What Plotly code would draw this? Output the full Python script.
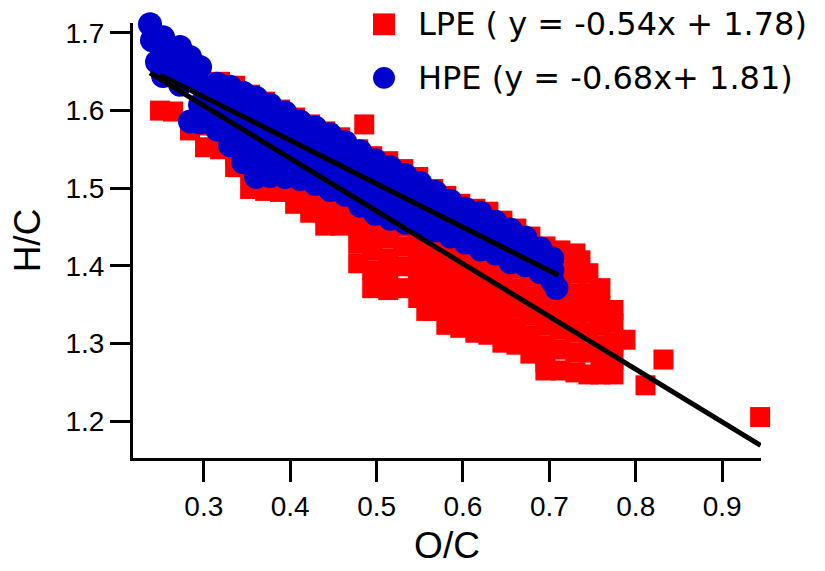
import plotly.graph_objects as go

# ---- LPE (red squares) : O/C, H/C ----
lpe_oc = [0.2493, 0.2643, 0.2840,
          0.3014, 0.3014, 0.3014, 0.3014,
          0.3188, 0.3188, 0.3188, 0.3188, 0.3188,
          0.3362, 0.3362, 0.3362, 0.3362, 0.3362, 0.3362,
          0.3536, 0.3536, 0.3536, 0.3536, 0.3536, 0.3536,
          0.3710, 0.3710, 0.3710, 0.3710, 0.3710, 0.3710,
          0.3883, 0.3883, 0.3883, 0.3883, 0.3883, 0.3883,
          0.4057, 0.4057, 0.4057, 0.4057, 0.4057, 0.4057,
          0.4231, 0.4231, 0.4231, 0.4231, 0.4231, 0.4231,
          0.4405, 0.4405, 0.4405, 0.4405, 0.4405, 0.4405,
          0.4579, 0.4579, 0.4579, 0.4579, 0.4579, 0.4579,
          0.4787, 0.4787, 0.4787, 0.4787, 0.4787, 0.4787, 0.4787,
          0.4857,
          0.4949, 0.4949, 0.4949, 0.4949, 0.4949, 0.4949, 0.4949, 0.4949,
          0.5135, 0.5135, 0.5135, 0.5135, 0.5135, 0.5135, 0.5135, 0.5135,
          0.5309, 0.5309, 0.5309, 0.5309, 0.5309, 0.5309, 0.5309,
          0.5482, 0.5482, 0.5482, 0.5482, 0.5482, 0.5482, 0.5482, 0.5482,
          0.5575,
          0.5656, 0.5656, 0.5656, 0.5656, 0.5656, 0.5656, 0.5656, 0.5656,
          0.5807, 0.5807, 0.5807, 0.5807, 0.5807, 0.5807, 0.5807, 0.5807,
          0.5969, 0.5969, 0.5969, 0.5969, 0.5969, 0.5969, 0.5969, 0.5969,
          0.6143, 0.6143, 0.6143, 0.6143, 0.6143, 0.6143, 0.6143, 0.6143,
          0.6294, 0.6294, 0.6294, 0.6294, 0.6294, 0.6294, 0.6294, 0.6294,
          0.6456, 0.6456, 0.6456, 0.6456, 0.6456, 0.6456, 0.6456, 0.6456,
          0.6618, 0.6618, 0.6618, 0.6618, 0.6618, 0.6618, 0.6618,
          0.6780, 0.6780, 0.6780, 0.6780, 0.6780, 0.6780, 0.6780,
          0.6954, 0.6954, 0.6954, 0.6954, 0.6954, 0.6954, 0.6954, 0.6954,
          0.7128, 0.7128, 0.7128, 0.7128, 0.7128, 0.7128, 0.7128,
          0.7302, 0.7302, 0.7302, 0.7302, 0.7302, 0.7302, 0.7302,
          0.7360,
          0.7452, 0.7452, 0.7452, 0.7452, 0.7452, 0.7452,
          0.7591, 0.7591, 0.7591, 0.7591, 0.7591, 0.7591,
          0.7742, 0.7742, 0.7742, 0.7742, 0.7742,
          0.7881,
          0.8113, 0.8321, 0.9440]
lpe_hc = [1.6000, 1.5988, 1.5745,
          1.6269, 1.6039, 1.5809, 1.5528,
          1.6371, 1.6141, 1.5911, 1.5681, 1.5502,
          1.6320, 1.6090, 1.5860, 1.5630, 1.5400, 1.5272,
          1.6205, 1.5975, 1.5745, 1.5502, 1.5247, 1.4991,
          1.6115, 1.5885, 1.5656, 1.5426, 1.5196, 1.4966,
          1.6013, 1.5796, 1.5579, 1.5362, 1.5145, 1.4953,
          1.5911, 1.5681, 1.5451, 1.5221, 1.4991, 1.4800,
          1.5822, 1.5592, 1.5362, 1.5132, 1.4902, 1.4685,
          1.5732, 1.5490, 1.5247, 1.5004, 1.4762, 1.4519,
          1.5656, 1.5426, 1.5196, 1.4966, 1.4736, 1.4519,
          1.5502, 1.5260, 1.5017, 1.4774, 1.4532, 1.4289, 1.4034,
          1.5822,
          1.5413, 1.5170, 1.4928, 1.4685, 1.4442, 1.4200, 1.3944, 1.3714,
          1.5349, 1.5106, 1.4864, 1.4608, 1.4353, 1.4097, 1.3868, 1.3689,
          1.5247, 1.5004, 1.4762, 1.4506, 1.4251, 1.3995, 1.3714,
          1.5145, 1.4902, 1.4660, 1.4417, 1.4174, 1.3931, 1.3753, 1.3587,
          1.3421,
          1.4991, 1.4762, 1.4532, 1.4302, 1.4072, 1.3842, 1.3612, 1.3421,
          1.4902, 1.4672, 1.4429, 1.4187, 1.3944, 1.3702, 1.3459, 1.3242,
          1.4800, 1.4570, 1.4340, 1.4110, 1.3880, 1.3650, 1.3421, 1.3203,
          1.4736, 1.4506, 1.4276, 1.4046, 1.3817, 1.3587, 1.3357, 1.3140,
          1.4698, 1.4442, 1.4187, 1.3931, 1.3676, 1.3421, 1.3267, 1.3114,
          1.4583, 1.4353, 1.4097, 1.3842, 1.3587, 1.3331, 1.3178, 1.3012,
          1.4481, 1.4225, 1.3970, 1.3714, 1.3459, 1.3203, 1.2986,
          1.4378, 1.4123, 1.3868, 1.3612, 1.3357, 1.3101, 1.2871,
          1.4251, 1.3995, 1.3740, 1.3484, 1.3229, 1.2974, 1.2756, 1.2654,
          1.4200, 1.3944, 1.3689, 1.3433, 1.3178, 1.2923, 1.2654,
          1.4161, 1.3906, 1.3650, 1.3395, 1.3140, 1.2884, 1.2629,
          1.4072,
          1.3906, 1.3650, 1.3395, 1.3140, 1.2884, 1.2603,
          1.3714, 1.3484, 1.3229, 1.2974, 1.2756, 1.2603,
          1.3433, 1.3267, 1.3012, 1.2795, 1.2603,
          1.3050,
          1.2463, 1.2795, 1.2054]

# ---- HPE (blue circles) ----
hpe_oc = [0.2377, 0.2400, 0.2458,
          0.2528, 0.2528, 0.2528,
          0.2725, 0.2725, 0.2725,
          0.2840, 0.2840, 0.2840,
          0.2956, 0.2956, 0.2956, 0.2956,
          0.3153, 0.3153, 0.3153, 0.3153,
          0.3304, 0.3304, 0.3304, 0.3304, 0.3304,
          0.3455, 0.3455, 0.3455, 0.3455, 0.3455,
          0.3605, 0.3605, 0.3605, 0.3605, 0.3605,
          0.3767, 0.3767, 0.3767, 0.3767, 0.3767,
          0.3941, 0.3941, 0.3941, 0.3941, 0.3941,
          0.4115, 0.4115, 0.4115, 0.4115,
          0.4289, 0.4289, 0.4289, 0.4289,
          0.4463, 0.4463, 0.4463, 0.4463,
          0.4637, 0.4637, 0.4637, 0.4637,
          0.4810, 0.4810, 0.4810, 0.4810,
          0.4984, 0.4984, 0.4984, 0.4984,
          0.5158, 0.5158, 0.5158, 0.5158,
          0.5332, 0.5332, 0.5332, 0.5332,
          0.5506, 0.5506, 0.5506, 0.5506,
          0.5679, 0.5679, 0.5679, 0.5679,
          0.5853, 0.5853, 0.5853, 0.5853,
          0.6027, 0.6027, 0.6027, 0.6027,
          0.6201, 0.6201, 0.6201, 0.6201,
          0.6375, 0.6375, 0.6375, 0.6375,
          0.6549, 0.6549, 0.6549, 0.6549,
          0.6722, 0.6722, 0.6722, 0.6722,
          0.6896, 0.6896, 0.6896, 0.6896,
          0.7035, 0.7035, 0.7035,
          0.7081]
hpe_hc = [1.7111, 1.6907, 1.6626,
          1.6945, 1.6715, 1.6447,
          1.6818, 1.6575, 1.6332,
          1.6690, 1.6460, 1.5860,
          1.6562, 1.6332, 1.6077, 1.5847,
          1.6345, 1.6141, 1.5936, 1.5758,
          1.6307, 1.6090, 1.5873, 1.5655, 1.5553,
          1.6230, 1.6013, 1.5796, 1.5566, 1.5336,
          1.6166, 1.5911, 1.5655, 1.5400, 1.5145,
          1.6077, 1.5847, 1.5617, 1.5387, 1.5158,
          1.5975, 1.5758, 1.5541, 1.5323, 1.5145,
          1.5860, 1.5630, 1.5375, 1.5120,
          1.5783, 1.5541, 1.5298, 1.5055,
          1.5694, 1.5464, 1.5221, 1.4979,
          1.5592, 1.5375, 1.5145, 1.4915,
          1.5477, 1.5247, 1.5004, 1.4774,
          1.5362, 1.5132, 1.4902, 1.4672,
          1.5272, 1.5042, 1.4825, 1.4608,
          1.5170, 1.4966, 1.4762, 1.4557,
          1.5068, 1.4877, 1.4685, 1.4506,
          1.4953, 1.4787, 1.4621, 1.4455,
          1.4838, 1.4685, 1.4532, 1.4378,
          1.4736, 1.4583, 1.4442, 1.4302,
          1.4685, 1.4532, 1.4378, 1.4213,
          1.4570, 1.4429, 1.4289, 1.4161,
          1.4468, 1.4327, 1.4187, 1.4046,
          1.4366, 1.4251, 1.4123, 1.4008,
          1.4225, 1.4123, 1.4021, 1.3919,
          1.4097, 1.3944, 1.3804,
          1.3715]

# ---- fitted lines (end points) ----
fit_long_oc = [0.2377, 0.9445]
fit_long_hc = [1.6486, 1.1690]
fit_short_oc = [0.2493, 0.7105]
fit_short_hc = [1.6460, 1.3880]

lpe_label = "LPE ( y = -0.54x + 1.78)"
hpe_label = "HPE (y = -0.68x+ 1.81)"
lpe_color = "#ff0000"
hpe_color = "#0000cc"

x_ticks = [0.3, 0.4, 0.5, 0.6, 0.7, 0.8, 0.9]
y_ticks = [1.2, 1.3, 1.4, 1.5, 1.6, 1.7]

fig = go.Figure()
fig.add_trace(go.Scatter(x=lpe_oc, y=lpe_hc, mode="markers", name=lpe_label, showlegend=False,
                         marker=dict(symbol="square", size=20, color=lpe_color, line=dict(width=0)),
                         cliponaxis=False))
fig.add_trace(go.Scatter(x=hpe_oc, y=hpe_hc, mode="markers", name=hpe_label, showlegend=False,
                         marker=dict(symbol="circle", size=24, color=hpe_color, line=dict(width=0)),
                         cliponaxis=False))
fig.add_trace(go.Scatter(x=fit_long_oc, y=fit_long_hc, mode="lines", showlegend=False,
                         line=dict(color="black", width=5), cliponaxis=False))
fig.add_trace(go.Scatter(x=fit_short_oc, y=fit_short_hc, mode="lines", showlegend=False,
                         line=dict(color="black", width=5), cliponaxis=False))

tick_font = dict(family="Arial", size=28, color="black")
title_font = dict(family="Arial", size=37, color="black")
leg_font = dict(family="DejaVu Sans", size=32, color="black")

# legend drawn as key symbols + text (paper coordinates)
legend_rows = [(lpe_label, lpe_color, "rect", 0.9970), (hpe_label, hpe_color, "circle", 0.8738)]
shapes = []
annotations = []
for label, color, kind, yc in legend_rows:
    shapes.append(dict(type=kind, xref="paper", yref="paper",
                       x0=0.3822, x1=0.4172, y0=yc - 0.0251, y1=yc + 0.0251,
                       fillcolor=color, line=dict(width=0)))
    annotations.append(dict(text=label, xref="paper", yref="paper", x=0.4500, y=yc,
                            xanchor="left", yanchor="middle", showarrow=False, font=leg_font))

fig.update_layout(
    width=825, height=571,
    margin=dict(l=133, r=64, t=23, b=110),
    paper_bgcolor="white", plot_bgcolor="white",
    showlegend=False,
    xaxis=dict(range=[0.218, 0.945], tickvals=x_ticks, ticktext=[f"{v:.1f}" for v in x_ticks],
               showline=True, linecolor="black", linewidth=3, showgrid=False, zeroline=False,
               ticks="outside", ticklen=21, tickwidth=3, tickcolor="black",
               tickfont=tick_font, title=dict(text="O/C", font=title_font, standoff=12)),
    yaxis=dict(range=[1.1527, 1.7128], tickvals=y_ticks, ticktext=[f"{v:.1f}" for v in y_ticks],
               showline=True, linecolor="black", linewidth=3, showgrid=False, zeroline=False,
               ticks="outside", ticklen=20, tickwidth=3, tickcolor="black",
               tickfont=tick_font, title=dict(text="H/C", font=title_font, standoff=14)),
    shapes=shapes,
    annotations=annotations,
)

fig.write_html("out.html")
